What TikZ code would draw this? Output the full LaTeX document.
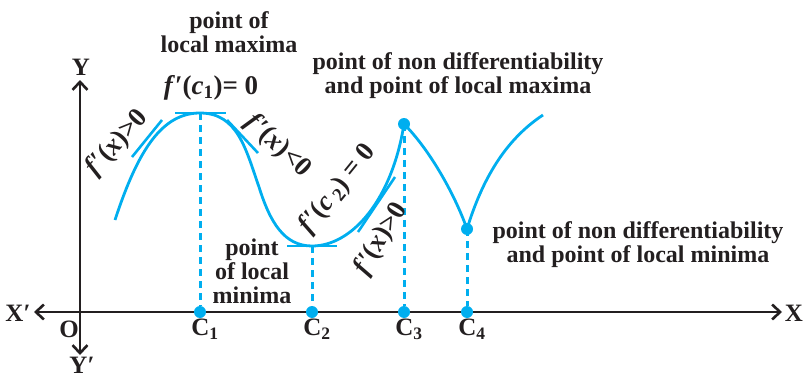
\documentclass[tikz,border=0pt]{standalone}
\usepackage{fontspec}
\setmainfont{Liberation Serif}
\usetikzlibrary{arrows.meta}
\definecolor{cy}{HTML}{00AEEF}
\definecolor{ink}{HTML}{231F20}
\tikzset{
  lbl/.style={text=ink,font=\fontsize{24}{24}\selectfont\bfseries,align=center,inner sep=0pt},
  axl/.style={text=ink,font=\fontsize{25}{25}\selectfont\bfseries,inner sep=0pt},
  drv/.style={text=ink,font=\fontsize{27}{27}\selectfont\bfseries,inner sep=0pt},
  crv/.style={cy,line width=2.8pt},
  tan/.style={cy,line width=2.6pt},
  dsh/.style={cy,line width=3pt,dash pattern=on 7pt off 5pt},
  axis/.style={ink,line width=2.6pt},
  dot/.style={circle,fill=cy,inner sep=0pt,minimum size=12pt},
}
\begin{document}
\begin{tikzpicture}[x=1pt,y=-1pt]
\useasboundingbox (0,0) rectangle (804,380);
% axes
\coordinate (xl) at (34,312);
\coordinate (xr) at (782,312);
\coordinate (yt) at (80,80);
\coordinate (yb) at (80,355);
\draw[axis,{Straight Barb[length=8pt,width=15pt]}-{Straight Barb[length=8pt,width=15pt]}] (xl) -- (xr);
\draw[axis,{Straight Barb[length=8pt,width=15pt]}-{Straight Barb[length=8pt,width=15pt]}] (yb) -- (yt);
\node[axl] (Xp) at (18,313) {X′};
\node[axl] (X) at (794,313) {X};
\node[axl] (Y) at (81,67) {Y};
\node[axl] (Yp) at (82,365) {Y′};
\node[axl] (O) at (69,329) {O};
% points on axis
\node[dot] (c1) at (200,312) {};
\node[dot] (c2) at (312,312) {};
\node[dot] (c3) at (404,312) {};
\node[dot] (c4) at (467,312) {};
\node[axl,anchor=north] (C1) at (205,319) {C\textsubscript{1}};
\node[axl,anchor=north] (C2) at (317,319) {C\textsubscript{2}};
\node[axl,anchor=north] (C3) at (409,319) {C\textsubscript{3}};
\node[axl,anchor=north] (C4) at (472,319) {C\textsubscript{4}};
% curve points
\coordinate (s) at (115,220);
\coordinate (m1) at (200,113);
\coordinate (m2) at (312,246);
\node[dot] (p3) at (404,124) {};
\node[dot] (p4) at (467,229) {};
\coordinate (e) at (543,115);
% dashed verticals
\draw[dsh] (m1) -- (c1);
\draw[dsh] (m2) -- (c2);
\draw[dsh] (p3.center) -- (c3);
\draw[dsh] (p4.center) -- (c4);
% curve
\draw[crv] (s) .. controls (138,150) and (162,113) .. (m1)
  .. controls (238,113) and (246,150) .. (259,187)
  .. controls (270,222) and (284,246) .. (m2)
  .. controls (352,246) and (392,200) .. (p3.center)
  .. controls (430,150) and (455,195) .. (p4.center)
  .. controls (482,180) and (505,140) .. (e);
% tangents
\coordinate (t1a) at (175,113); \coordinate (t1b) at (226,113);
\coordinate (t2a) at (287,246); \coordinate (t2b) at (337,246);
\coordinate (t3a) at (132,157); \coordinate (t3b) at (162,120);
\coordinate (t4a) at (227,120); \coordinate (t4b) at (258,153);
\coordinate (t5a) at (358,232); \coordinate (t5b) at (395,177);
\draw[tan] (t1a) -- (t1b);
\draw[tan] (t2a) -- (t2b);
\draw[tan] (t3a) -- (t3b);
\draw[tan] (t4a) -- (t4b);
\draw[tan] (t5a) -- (t5b);
% derivative labels
\node[drv] (d1) at (211,88) {\textit{f}′(\textit{c}\textsubscript{1})= 0};
\node[drv,rotate=48] (d2) at (117,143) {\textit{f}′(\textit{x})>0};
\node[drv,rotate=-44] (d3) at (278,146) {\textit{f}′(\textit{x})<0};
\node[drv,rotate=51] (d4) at (338,189) {\textit{f}′(\textit{c}\,\textsubscript{2}) = 0};
\node[drv,rotate=59] (d5) at (381,239) {\textit{f}′(\textit{x})>0};
% text labels
\node[lbl] (L1) at (229,32) {point of\\local maxima};
\node[lbl] (L2) at (458,76) {point of non differentiability\\and point of local maxima};
\node[lbl] (L3) at (252,271) {point\\of local\\minima};
\node[lbl] (L4) at (638,245) {point of non differentiability\\and point of local minima};
\end{tikzpicture}
\end{document}
